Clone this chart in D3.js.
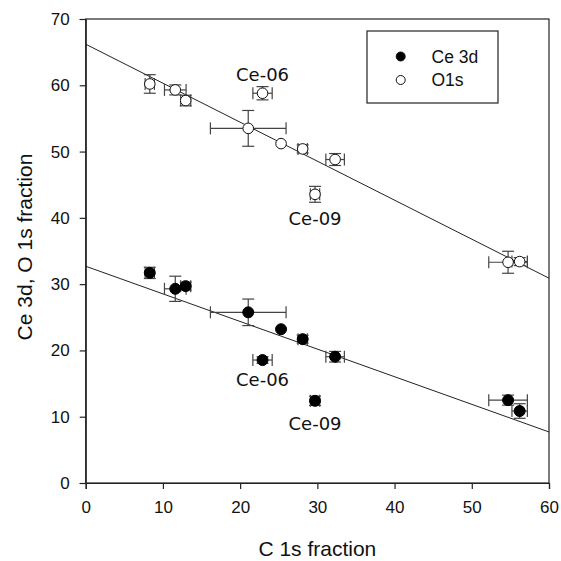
<!DOCTYPE html>
<html>
<head>
<meta charset="utf-8">
<script src="https://cdn.jsdelivr.net/npm/d3@7"></script>
<style>
  html, body { margin: 0; padding: 0; background: #fff; }
  svg { display: block; }
</style>
</head>
<body>
<svg id="chart" width="561" height="561"></svg>
<script>
// ---- data ----
const cFraction = [8.3, 11.6, 12.95, 21.05, 25.3, 28.1, 32.3, 29.7, 22.9, 54.7, 56.2];
const cErr      = [0.6, 1.4, 0.65, 4.9, 0, 0.6, 1.2, 0.6, 1.25, 2.5, 1.0];

const o1s       = [60.2, 59.3, 57.7, 53.5, 51.2, 50.4, 48.8, 43.55, 58.8, 33.3, 33.4];
const o1sErr    = [1.4, 0.75, 0.8, 2.7, 0, 0.6, 0.9, 1.2, 1.0, 1.66, 0.6];

const ce3d      = [31.7, 29.3, 29.7, 25.75, 23.2, 21.7, 19.05, 12.4, 18.55, 12.5, 10.86];
const ce3dErr   = [0.85, 1.9, 0.6, 2.0, 0, 0.6, 0.8, 0.7, 0.5, 0.75, 1.1];

const fitX      = [0, 60];
const fitO1s    = [66.2, 30.9];
const fitCe3d   = [32.7, 7.7];

const xTicks = [0, 10, 20, 30, 40, 50, 60];
const yTicks = [0, 10, 20, 30, 40, 50, 60, 70];

const annX    = [22.9, 29.7, 22.9, 29.7];
const annY    = [58.8, 43.55, 18.55, 12.4];
const annText = ["Ce-06", "Ce-09", "Ce-06", "Ce-09"];
const annOff  = [-12, 31, 26, 29];   // vertical offset of label baseline from point (px)

const seriesNames = ["Ce 3d", "O1s"];

// ---- layout ----
const svg = d3.select("#chart");
const L = 85.7, R = 549, T = 19, B = 483;
const x = d3.scaleLinear().domain([0, 60]).range([L, R]);
const y = d3.scaleLinear().domain([0, 70]).range([B, T]);

const tickFont = "'Liberation Sans', Arial, sans-serif";

// frame
svg.append("rect")
  .attr("x", L).attr("y", T).attr("width", R - L).attr("height", B - T)
  .attr("fill", "none").attr("stroke", "#222").attr("stroke-width", 1.2);

// axes
const xAxis = svg.append("g").attr("transform", `translate(0,${B})`)
  .call(d3.axisBottom(x).tickValues(xTicks).tickSize(6).tickPadding(12).tickFormat(d3.format("d")));
const yAxis = svg.append("g").attr("transform", `translate(${L},0)`)
  .call(d3.axisLeft(y).tickValues(yTicks).tickSize(6).tickPadding(10).tickFormat(d3.format("d")));
[xAxis, yAxis].forEach(g => {
  g.select(".domain").attr("stroke", "#222").attr("stroke-width", 1.2);
  g.selectAll(".tick line").attr("stroke", "#222").attr("stroke-width", 1.2);
  g.selectAll(".tick text").attr("font-family", tickFont).attr("font-size", 17).attr("fill", "#111");
});

// axis titles
svg.append("text").attr("x", (L + R) / 2).attr("y", 556)
  .attr("text-anchor", "middle").attr("font-family", tickFont).attr("font-size", 21).attr("fill", "#111")
  .text("C 1s fraction");
svg.append("text").attr("transform", "translate(32,247) rotate(-90)")
  .attr("text-anchor", "middle").attr("font-family", tickFont).attr("font-size", 21).attr("fill", "#111")
  .text("Ce 3d, O 1s fraction");

// regression lines
const lineGen = d3.line().x(d => x(d[0])).y(d => y(d[1]));
[fitO1s, fitCe3d].forEach(fy => {
  svg.append("path").datum(fitX.map((v, i) => [v, fy[i]]))
    .attr("d", lineGen).attr("fill", "none").attr("stroke", "#222").attr("stroke-width", 1);
});

// error bars
const cap = 6;
const ebColor = "#444";
function drawErrors(vals, errs) {
  const g = svg.append("g").attr("stroke", ebColor).attr("stroke-width", 1.2).attr("fill", "none");
  cFraction.forEach((cx, i) => {
    const px = x(cx), py = y(vals[i]);
    if (errs[i] > 0) {
      const y1 = y(vals[i] + errs[i]), y2 = y(vals[i] - errs[i]);
      g.append("line").attr("x1", px).attr("x2", px).attr("y1", y1).attr("y2", y2);
      g.append("line").attr("x1", px - cap).attr("x2", px + cap).attr("y1", y1).attr("y2", y1);
      g.append("line").attr("x1", px - cap).attr("x2", px + cap).attr("y1", y2).attr("y2", y2);
    }
    if (cErr[i] > 0) {
      const x1 = x(cx - cErr[i]), x2 = x(cx + cErr[i]);
      g.append("line").attr("x1", x1).attr("x2", x2).attr("y1", py).attr("y2", py);
      g.append("line").attr("x1", x1).attr("x2", x1).attr("y1", py - cap).attr("y2", py + cap);
      g.append("line").attr("x1", x2).attr("x2", x2).attr("y1", py - cap).attr("y2", py + cap);
    }
  });
}
drawErrors(o1s, o1sErr);
drawErrors(ce3d, ce3dErr);

// markers
svg.append("g").selectAll("circle").data(cFraction).join("circle")
  .attr("cx", d => x(d)).attr("cy", (d, i) => y(o1s[i])).attr("r", 5.3)
  .attr("fill", "#fff").attr("stroke", "#111").attr("stroke-width", 1);
svg.append("g").selectAll("circle").data(cFraction).join("circle")
  .attr("cx", d => x(d)).attr("cy", (d, i) => y(ce3d[i])).attr("r", 5.5)
  .attr("fill", "#000").attr("stroke", "#000").attr("stroke-width", 1);

// annotations
svg.append("g").selectAll("text").data(annText).join("text")
  .attr("x", (d, i) => x(annX[i]))
  .attr("y", (d, i) => y(annY[i]) + annOff[i])
  .attr("text-anchor", "middle")
  .attr("font-family", "'DejaVu Sans', Verdana, sans-serif").attr("font-size", 18).attr("fill", "#111")
  .text(d => d);

// legend
const lg = svg.append("g");
lg.append("rect").attr("x", 367).attr("y", 31).attr("width", 131).attr("height", 72)
  .attr("fill", "#fff").attr("stroke", "#222").attr("stroke-width", 1.2);
seriesNames.forEach((name, i) => {
  const cy = 56.5 + i * 23.5;
  lg.append("circle").attr("cx", 400.7).attr("cy", cy).attr("r", 4.5)
    .attr("fill", i === 0 ? "#000" : "#fff").attr("stroke", "#111").attr("stroke-width", 1);
  lg.append("text").attr("x", 431.5).attr("y", cy + 6)
    .attr("font-family", tickFont).attr("font-size", 17.5).attr("fill", "#111").text(name);
});
</script>
</body>
</html>
